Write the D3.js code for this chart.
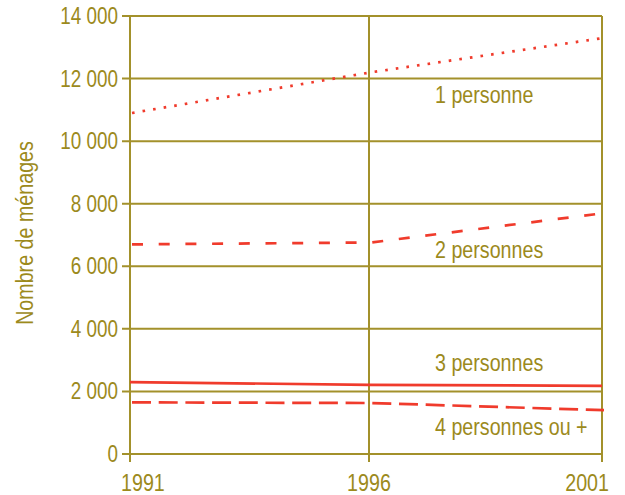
<!DOCTYPE html>
<meta charset="utf-8">
<style>
body { margin: 0; background: #fff; }
svg text { font-family: "Liberation Sans", Arial, sans-serif; fill: #9c8a1c; }
.grid line { stroke: #a3912b; stroke-width: 2; fill: none; }
.series { fill: none; stroke: #f03b2c; stroke-width: 2.7; }
</style>
<svg id="chart" width="625" height="495"></svg>
<script src="https://cdn.jsdelivr.net/npm/d3@7"></script>
<script>

const years = [1991, 1996, 2001];
const yTicks = [0, 2000, 4000, 6000, 8000, 10000, 12000, 14000];
const seriesNames = ["1 personne", "2 personnes", "3 personnes", "4 personnes ou +"];
const onePerson = [10900, 12200, 13300];
const twoPersons = [6700, 6760, 7700];
const threePersons = [2300, 2210, 2180];
const fourPlus = [1650, 1630, 1400];

const values = [onePerson, twoPersons, threePersons, fourPlus];
const dashes = ["2.6,8.1", "11,15.7", null, "19,7.7"];
const labelY = [103, 258, 371, 435];

// no narrow font installed: squeeze Liberation Sans like Arial Narrow
const narrow = 0.82;

const svg = d3.select("#chart");

// 1996 is not quite in the middle in the original
const x = d3.scaleLinear().domain(years).range([130, 369, 602]);
const y = d3.scaleLinear().domain([0, 14000]).range([454, 16]);

const fmt = d => d3.format(",")(d).replace(",", " ");

// horizontal grid
svg.append("g").attr("class", "grid")
  .selectAll("line").data(yTicks).enter().append("line")
    .attr("x1", x(1991) - 8).attr("x2", x(2001))
    .attr("y1", d => y(d)).attr("y2", d => y(d));

// vertical grid + ticks below axis
svg.append("g").attr("class", "grid")
  .selectAll("line").data(years).enter().append("line")
    .attr("x1", d => x(d)).attr("x2", d => x(d))
    .attr("y1", y(14000)).attr("y2", y(0) + 8);

svg.append("g").selectAll("text").data(yTicks).enter().append("text")
    .attr("transform", d => `translate(118,${y(d)}) scale(${narrow},1)`)
    .attr("dy", "0.35em")
    .attr("text-anchor", "end").style("font-size", "23px")
    .text(fmt);

svg.append("g").selectAll("text").data(years).enter().append("text")
    .attr("transform", (d, i) => {
      const tx = i === 0 ? x(d) - 9 : i === 2 ? x(d) + 7 : x(d);
      return `translate(${tx},491) scale(${narrow},1)`;
    })
    .attr("text-anchor", (d, i) => i === 0 ? "start" : i === 2 ? "end" : "middle")
    .style("font-size", "24px")
    .text(d => d);

svg.append("text")
    .attr("transform", `translate(33,233) rotate(-90) scale(${narrow},1)`)
    .attr("text-anchor", "middle").style("font-size", "24px")
    .text("Nombre de ménages");

const line = d3.line().x((d, i) => x(years[i])).y(d => y(d));

svg.append("g").selectAll("path").data(values).enter().append("path")
    .attr("class", "series")
    .attr("d", line)
    .attr("stroke-dasharray", (d, i) => dashes[i])
    .attr("transform", (d, i) => dashes[i] ? "translate(2,0)" : null);

svg.append("g").selectAll("text").data(seriesNames).enter().append("text")
    .attr("transform", (d, i) => `translate(435,${labelY[i]}) scale(${narrow},1)`)
    .style("font-size", "24px")
    .text(d => d);

</script>
